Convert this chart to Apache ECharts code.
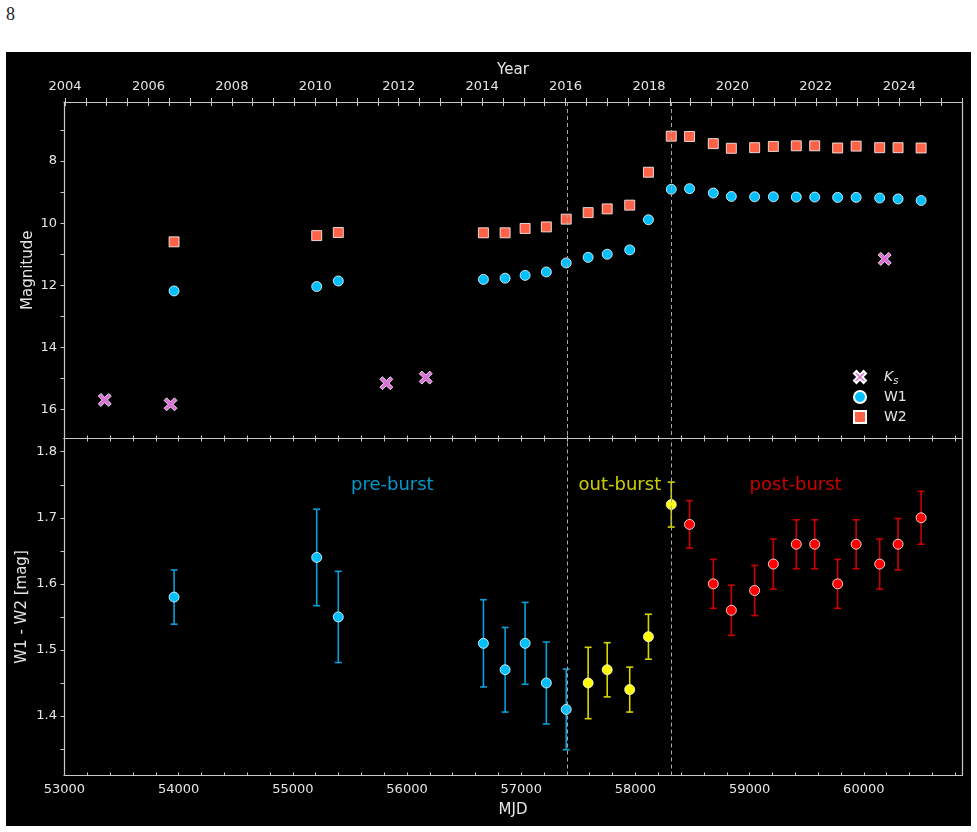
<!DOCTYPE html>
<html>
<head>
<meta charset="utf-8">
<script src="https://cdn.jsdelivr.net/npm/echarts@6/dist/echarts.min.js"></script>
<style>
  html, body { margin: 0; padding: 0; background: #fff; }
  .pagenum { position: absolute; left: 6px; top: 4px; font-family: "Liberation Serif", serif; font-size: 18px; color: #222; }
  #chart { position: absolute; left: 6px; top: 52px; width: 965px; height: 774px; }
</style>
</head>
<body>
<div class="pagenum">8</div>
<div id="chart"></div>
<script>
// ---- data ----
// WISE epochs (MJD) and magnitudes, top panel
const mjdWise = [53960, 55209, 55398, 56669, 56859, 57034, 57220, 57394, 57586, 57753, 57950, 58114, 58314,
                 58474, 58682, 58840, 59044, 59208, 59409, 59570, 59771, 59933, 60139, 60300, 60502];
const magW1 = [12.18, 12.04, 11.86, 11.81, 11.77, 11.68, 11.57, 11.28, 11.10, 11.00, 10.86, 9.89, 8.91,
               8.89, 9.03, 9.14, 9.15, 9.15, 9.16, 9.16, 9.17, 9.17, 9.19, 9.22, 9.27];
const magW2 = [10.60, 10.40, 10.30, 10.31, 10.31, 10.17, 10.12, 9.87, 9.66, 9.54, 9.42, 8.36, 7.20,
               7.21, 7.44, 7.59, 7.57, 7.53, 7.51, 7.51, 7.58, 7.52, 7.57, 7.57, 7.58];
// Ks photometry
const mjdKs = [53353, 53929, 55819, 56164, 60183];
const magKs = [15.69, 15.83, 15.15, 14.97, 11.15];

// W1 - W2 colour, bottom panel, split by phase
const mjdPre = [53960, 55209, 55398, 56669, 56859, 57034, 57220, 57394];
const colPre = [1.58, 1.64, 1.55, 1.51, 1.47, 1.51, 1.45, 1.41];
const errPre = [0.041, 0.073, 0.069, 0.066, 0.064, 0.062, 0.062, 0.061];
const mjdOut = [57586, 57753, 57950, 58114, 58314];
const colOut = [1.45, 1.47, 1.44, 1.52, 1.72];
const errOut = [0.054, 0.041, 0.034, 0.034, 0.034];
const mjdPost = [58474, 58682, 58840, 59044, 59208, 59409, 59570, 59771, 59933, 60139, 60300, 60502];
const colPost = [1.69, 1.60, 1.56, 1.59, 1.63, 1.66, 1.66, 1.60, 1.66, 1.63, 1.66, 1.70];
const errPost = [0.036, 0.037, 0.038, 0.038, 0.038, 0.037, 0.037, 0.037, 0.037, 0.038, 0.039, 0.040];

// burst boundaries (MJD)
const burstLines = [57400, 58316];

// tick labels
const mjdTicks = [53000, 54000, 55000, 56000, 57000, 58000, 59000, 60000];
const yearTicks = [2004, 2006, 2008, 2010, 2012, 2014, 2016, 2018, 2020, 2022, 2024];
const magTicks = [8, 10, 12, 14, 16];
const colTicks = [1.4, 1.5, 1.6, 1.7, 1.8];

// ---- helpers ----
const MJD0 = 53005; // 2004-01-01
const yearToMjd = y => MJD0 + (y - 2004) * 365.25;
const mjdToYear = m => 2004 + (m - MJD0) / 365.25;

const X_MIN = 52996, X_MAX = 60860;
const minorMjd = [];
for (let v = 53000; v <= X_MAX; v += 200) minorMjd.push(v);
const halfYears = [];
for (let y = 2004; yearToMjd(y) <= X_MAX; y += 0.5) halfYears.push(yearToMjd(y));

const txt = '#e6e6e6';
const spine = '#c8c8c8';
const font = 'DejaVu Sans';

const xShape = 'path://M-0.3,-0.5 L0,-0.2 L0.3,-0.5 L0.5,-0.3 L0.2,0 L0.5,0.3 L0.3,0.5 L0,0.2 L-0.3,0.5 L-0.5,0.3 L-0.2,0 L-0.5,-0.3 Z';

function errBars(mjd, val, err, color) {
  return {
    type: 'custom', xAxisIndex: 3, yAxisIndex: 2, z: 2, silent: true,
    data: mjd.map((m, i) => [m, val[i], err[i]]),
    encode: { x: 0, y: 1 },
    renderItem: (params, api) => {
      const x = api.value(0), y = api.value(1), e = api.value(2);
      const lo = api.coord([x, y - e]);
      const hi = api.coord([x, y + e]);
      const w = 3.5;
      const st = { stroke: color, lineWidth: 1.6 };
      return {
        type: 'group',
        children: [
          { type: 'line', shape: { x1: lo[0], y1: lo[1], x2: hi[0], y2: hi[1] }, style: st },
          { type: 'line', shape: { x1: lo[0] - w, y1: lo[1], x2: lo[0] + w, y2: lo[1] }, style: st },
          { type: 'line', shape: { x1: hi[0] - w, y1: hi[1], x2: hi[0] + w, y2: hi[1] }, style: st }
        ]
      };
    }
  };
}

function points(name, mjd, val, color) {
  return {
    name: name, type: 'scatter', xAxisIndex: 3, yAxisIndex: 2, z: 4,
    symbol: 'circle', symbolSize: 10,
    itemStyle: { color: color, borderColor: '#ffffff', borderWidth: 0.8, opacity: 1 },
    data: mjd.map((m, i) => [m, val[i]])
  };
}

function phaseText(text, mjd, y, color) {
  return {
    type: 'scatter', xAxisIndex: 3, yAxisIndex: 2, silent: true, z: 5,
    symbolSize: 0,
    data: [[mjd, y]],
    label: {
      show: true, formatter: text, position: [0, 0], align: 'left', verticalAlign: 'middle',
      color: color, fontSize: 18, fontFamily: font
    }
  };
}

const dashed = {
  silent: true, symbol: 'none', animation: false,
  label: { show: false },
  lineStyle: { type: [4, 3], color: '#a8a8a8', width: 1 },
  data: burstLines.map(v => ({ xAxis: v }))
};

const lineStyle = { lineStyle: { color: spine, width: 1.2 } };

const chart = echarts.init(document.getElementById('chart'));
chart.setOption({
  animation: false,
  backgroundColor: '#000000',
  textStyle: { fontFamily: font },
  grid: [
    { left: 58, top: 50, width: 898, height: 336.5, outerBoundsMode: 'none', containLabel: false },
    { left: 58, top: 386.5, width: 898, height: 337, outerBoundsMode: 'none', containLabel: false }
  ],
  legend: {
    data: ['Ks', 'W1', 'W2'],
    orient: 'vertical', left: 842, top: 311,
    itemWidth: 12, itemHeight: 12, itemGap: 2,
    textStyle: {
      color: txt, fontSize: 14, fontFamily: font, lineHeight: 18, padding: [0, 0, 0, 13],
      rich: {
        k: { fontStyle: 'italic', fontSize: 14, lineHeight: 18, color: txt, fontFamily: font },
        s: { fontStyle: 'italic', fontSize: 10, lineHeight: 10, verticalAlign: 'bottom', color: txt, fontFamily: font }
      }
    },
    formatter: n => n === 'Ks' ? '{k|K}{s|s}' : n
  },
  xAxis: [
    { // top panel, bottom edge (MJD, no labels)
      type: 'value', gridIndex: 0, position: 'bottom', min: X_MIN, max: X_MAX,
      axisLine: lineStyle, splitLine: { show: false },
      axisTick: { inside: true, length: 3, customValues: minorMjd, lineStyle: { color: spine } },
      axisLabel: { show: false }
    },
    { // top panel, year axis
      type: 'value', gridIndex: 0, position: 'top', min: X_MIN, max: X_MAX,
      name: 'Year', nameLocation: 'middle', nameGap: 24,
      nameTextStyle: { color: txt, fontSize: 15, fontFamily: font },
      axisLine: lineStyle, splitLine: { show: false },
      axisTick: { inside: false, length: 4, customValues: halfYears, lineStyle: { color: spine } },
      axisLabel: {
        customValues: yearTicks.map(yearToMjd), margin: 9,
        formatter: v => String(Math.round(mjdToYear(v))),
        color: txt, fontSize: 13, fontFamily: font
      }
    },
    { // top panel, inward year ticks
      type: 'value', gridIndex: 0, position: 'top', min: X_MIN, max: X_MAX,
      axisLine: { show: false }, splitLine: { show: false },
      axisTick: { inside: true, length: 4, customValues: halfYears, lineStyle: { color: spine } },
      axisLabel: { show: false }
    },
    { // bottom panel MJD
      type: 'value', gridIndex: 1, position: 'bottom', min: X_MIN, max: X_MAX,
      name: 'MJD', nameLocation: 'middle', nameGap: 27,
      nameTextStyle: { color: txt, fontSize: 15, fontFamily: font },
      axisLine: lineStyle, splitLine: { show: false },
      axisTick: { inside: true, length: 3, customValues: minorMjd, lineStyle: { color: spine } },
      axisLabel: { customValues: mjdTicks, margin: 8, color: txt, fontSize: 13, fontFamily: font,
                   formatter: v => String(v) }
    },
    { // bottom panel top edge
      type: 'value', gridIndex: 1, position: 'top', min: X_MIN, max: X_MAX,
      axisLine: lineStyle, splitLine: { show: false },
      axisTick: { inside: true, length: 3, customValues: minorMjd, lineStyle: { color: spine } },
      axisLabel: { show: false }
    }
  ],
  yAxis: [
    {
      type: 'value', gridIndex: 0, inverse: true, min: 6.1, max: 16.93,
      name: 'Magnitude', nameLocation: 'middle', nameGap: 28, nameRotate: 90, nameMoveOverlap: false,
      nameTextStyle: { color: txt, fontSize: 15, fontFamily: font },
      axisLine: lineStyle, splitLine: { show: false },
      axisTick: { length: 3.5, customValues: [7, 8, 9, 10, 11, 12, 13, 14, 15, 16], lineStyle: { color: spine } },
      axisLabel: { customValues: magTicks, margin: 7, color: txt, fontSize: 13, fontFamily: font }
    },
    {
      type: 'value', gridIndex: 0, position: 'right', inverse: true, min: 6.1, max: 16.93,
      axisLine: lineStyle, splitLine: { show: false }, axisTick: { show: false }, axisLabel: { show: false }
    },
    {
      type: 'value', gridIndex: 1, min: 1.31, max: 1.82,
      name: 'W1 - W2 [mag]', nameLocation: 'middle', nameGap: 34, nameRotate: 90, nameMoveOverlap: false,
      nameTextStyle: { color: txt, fontSize: 15, fontFamily: font },
      axisLine: lineStyle, splitLine: { show: false },
      axisTick: { length: 3.5, customValues: [1.35, 1.4, 1.45, 1.5, 1.55, 1.6, 1.65, 1.7, 1.75, 1.8], lineStyle: { color: spine } },
      axisLabel: { customValues: colTicks, margin: 7, color: txt, fontSize: 13, fontFamily: font,
                   formatter: v => v.toFixed(1) }
    },
    {
      type: 'value', gridIndex: 1, position: 'right', min: 1.31, max: 1.82,
      axisLine: lineStyle, splitLine: { show: false }, axisTick: { show: false }, axisLabel: { show: false }
    }
  ],
  series: [
    {
      name: 'Ks', type: 'scatter', xAxisIndex: 0, yAxisIndex: 0, z: 3,
      symbol: xShape, symbolSize: 13,
      itemStyle: { color: '#DA70D6', borderColor: '#ffffff', borderWidth: 0.8, opacity: 1 },
      data: mjdKs.map((m, i) => [m, magKs[i]]),
      markLine: dashed
    },
    {
      name: 'W1', type: 'scatter', xAxisIndex: 0, yAxisIndex: 0, z: 3,
      symbol: 'circle', symbolSize: 10,
      itemStyle: { color: '#00BFFF', borderColor: '#ffffff', borderWidth: 0.8, opacity: 1 },
      data: mjdWise.map((m, i) => [m, magW1[i]])
    },
    {
      name: 'W2', type: 'scatter', xAxisIndex: 0, yAxisIndex: 0, z: 3,
      symbol: 'rect', symbolSize: 10,
      itemStyle: { color: '#FF6347', borderColor: '#ffffff', borderWidth: 0.8, opacity: 1 },
      data: mjdWise.map((m, i) => [m, magW2[i]])
    },
    Object.assign(errBars(mjdPre, colPre, errPre, '#0a9fd8'), { markLine: dashed }),
    errBars(mjdOut, colOut, errOut, '#d6d600'),
    errBars(mjdPost, colPost, errPost, '#cc0000'),
    points('pre-burst', mjdPre, colPre, '#00BFFF'),
    points('out-burst', mjdOut, colOut, '#FFFF00'),
    points('post-burst', mjdPost, colPost, '#FF0000'),
    phaseText('pre-burst', 55509, 1.749, '#00BFFF'),
    phaseText('out-burst', 57502, 1.749, '#FFFF00'),
    phaseText('post-burst', 59000, 1.749, '#FF0000')
  ]
});
</script>
</body>
</html>
